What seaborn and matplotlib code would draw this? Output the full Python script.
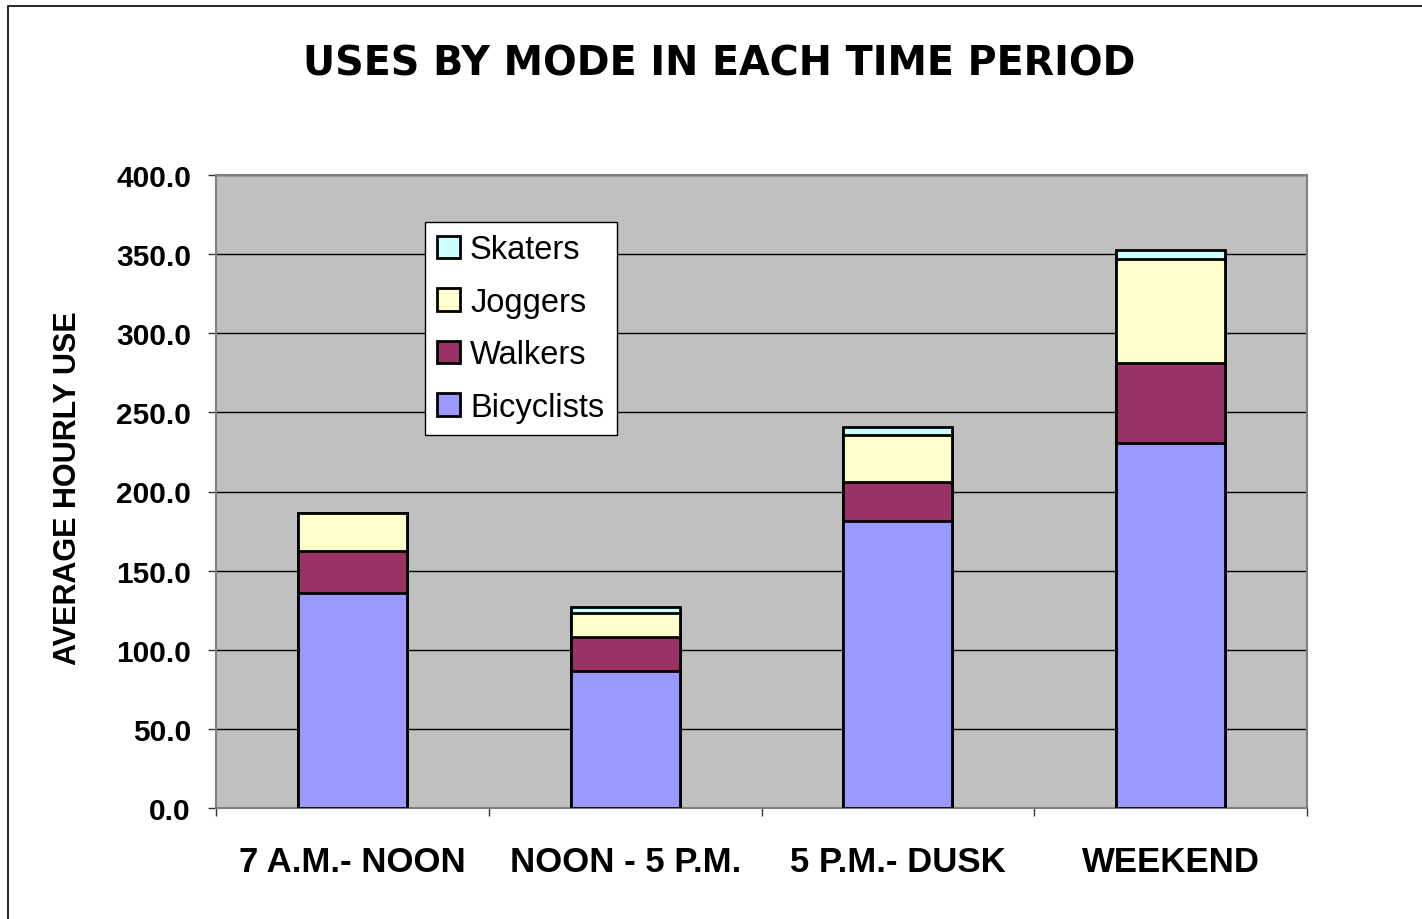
import matplotlib
matplotlib.use("Agg")
import matplotlib.pyplot as plt
import seaborn as sns
import pandas as pd
import numpy as np
from matplotlib.patches import Rectangle, Patch

periods = ["7 A.M.- NOON", "NOON - 5 P.M.", "5 P.M.- DUSK", "WEEKEND"]
bicyclists = [135.7, 86.8, 181.2, 230.4]
walkers = [26.5, 21.1, 24.6, 50.5]
joggers = [24.5, 15.6, 29.9, 66.0]
skaters = [0.0, 3.3, 5.1, 5.9]

series_names = ["Bicyclists", "Walkers", "Joggers", "Skaters"]
series_vals = [bicyclists, walkers, joggers, skaters]
colors = {"Bicyclists": "#9999FF", "Walkers": "#993366",
          "Joggers": "#FFFFCC", "Skaters": "#CCFFFF"}

sns.set_style("white")
plt.rcParams['font.family'] = ['Liberation Sans', 'DejaVu Sans']
plt.rcParams['text.color'] = 'black'
plt.rcParams['axes.labelcolor'] = 'black'
plt.rcParams['xtick.color'] = 'black'
plt.rcParams['ytick.color'] = 'black'

fig = plt.figure(figsize=(14.22, 9.2), dpi=100)
ax = fig.add_axes([216/1422, 1-809/920, 1091/1422, 633/920])
ax.set_facecolor("#C0C0C0")

# cumulative stacks, drawn from the top layer down
cum = np.cumsum(np.array(series_vals), axis=0)
for i in range(len(series_names) - 1, -1, -1):
    name = series_names[i]
    df = pd.DataFrame({"period": periods, "value": cum[i]})
    sns.barplot(data=df, x="period", y="value", color=colors[name],
                edgecolor="black", linewidth=2, width=0.4, ax=ax,
                saturation=1, zorder=3)

ax.set_ylim(0, 400)
ax.set_xlim(-0.5, 3.5)
yt = np.arange(0, 401, 50)
ax.set_yticks(yt)
ax.set_yticklabels([f"{v:.1f}" for v in yt], fontsize=21.5, fontweight="bold")
ax.yaxis.grid(True, color="#000000", linewidth=1.0, zorder=0)
ax.set_axisbelow(True)
ax.tick_params(axis="y", direction="out", length=6, width=1, color="#333333",
               pad=12, left=True)
ax.set_xticks(range(4))
ax.set_xticklabels(periods, fontsize=25, fontweight="bold")
ax.tick_params(axis="x", which="major", length=0, pad=27)
ax.set_xticks([-0.5, 0.5, 1.5, 2.5, 3.5], minor=True)
ax.tick_params(axis="x", which="minor", direction="out", length=6, width=1,
               color="#333333", bottom=True)
ax.set_xlabel("")
ax.set_ylabel("AVERAGE HOURLY USE", fontsize=22, fontweight="bold")
ax.yaxis.label.set_va("center")
ax.yaxis.set_label_coords((68-216)/1091, (809-488.5)/633)
for s in ax.spines.values():
    s.set_visible(True)
    s.set_color("#808080")
    s.set_linewidth(1.5)

handles = [Patch(facecolor=colors[n], edgecolor="black", linewidth=2, label=n)
           for n in ["Skaters", "Joggers", "Walkers", "Bicyclists"]]
leg = ax.legend(handles=handles, loc="upper left",
                bbox_to_anchor=((425-216)/1091, (809-223)/633),
                fontsize=23.5, frameon=True, fancybox=False, edgecolor="black",
                handlelength=0.7, handleheight=0.7, handletextpad=0.3,
                labelspacing=0.66, borderpad=0.38, borderaxespad=0,
                framealpha=1)
leg.get_frame().set_linewidth(1)

fig.text(719/1422, 1-65/920, "USES BY MODE IN EACH TIME PERIOD",
         ha="center", va="center", fontsize=28.5, fontweight="bold",
         family=["DejaVu Sans"])

fig.patches.append(Rectangle((8/1422, -0.01), 1.1, 1 - 7/920 + 0.01,
                             transform=fig.transFigure, fill=False,
                             edgecolor="black", linewidth=1.2))

fig.savefig("out.png", dpi=100)
